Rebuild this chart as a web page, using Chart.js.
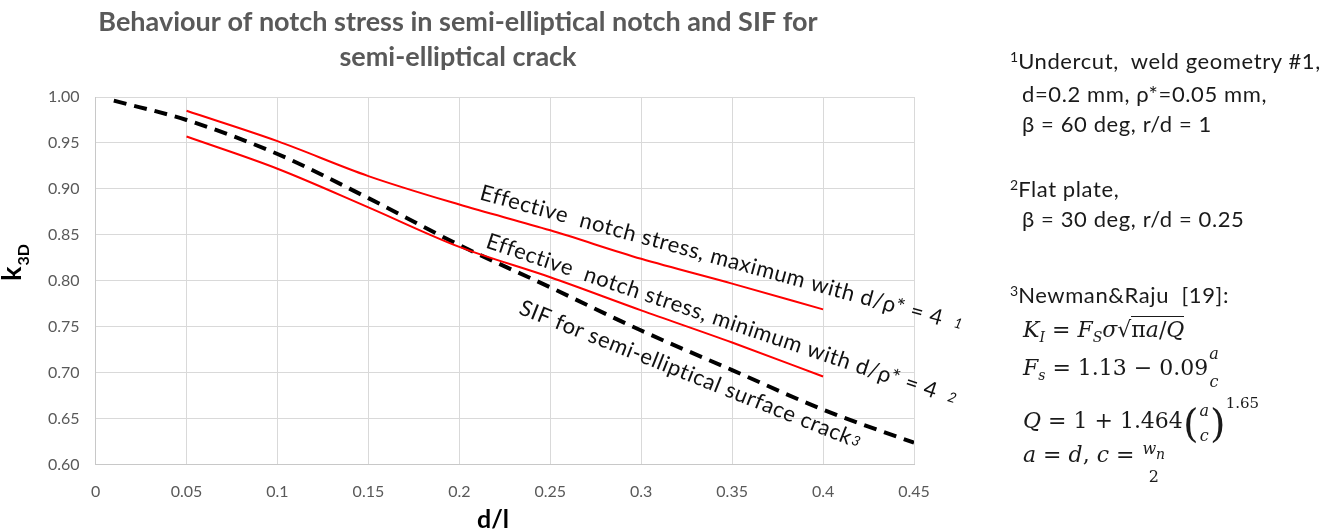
<!DOCTYPE html>
<html><head><meta charset="utf-8">
<script src="https://cdn.jsdelivr.net/npm/chart.js@4"></script>
<style>
html,body{margin:0;padding:0;background:#fff;}
#wrap{position:relative;width:1335px;height:532px;overflow:hidden;}
canvas{position:absolute;left:0;top:0;}
.t{position:absolute;font-family:Lato,"Open Sans",sans-serif;font-size:22px;line-height:24px;letter-spacing:0.6px;color:#1a1a1a;white-space:nowrap;}
.t .m{font-size:14px;line-height:0;letter-spacing:0;vertical-align:7px;}
.f{position:absolute;font-family:"DejaVu Serif",serif;font-size:22px;line-height:26px;color:#1a1a1a;white-space:nowrap;}
.f i{font-style:italic;}
.f sub{font-size:14px;vertical-align:-5px;line-height:0;}
.f sup{font-size:15px;vertical-align:20px;line-height:0;}
.frac{display:inline-flex;flex-direction:column;align-items:center;font-size:16px;margin:0 1px;position:relative;vertical-align:baseline;}
.par{font-size:40px;vertical-align:-9px;line-height:0;font-weight:normal;}
.root{border-top:1.5px solid #1a1a1a;}
</style></head>
<body><div id="wrap"><canvas id="c" width="1335" height="532"></canvas>
<div class="t" style="left:1010px;top:49px;"><span class="m">1</span>Undercut,&nbsp; weld geometry #1,</div>
<div class="t" style="left:1022px;top:82px;">d=0.2 mm, ρ*=0.05 mm,</div>
<div class="t" style="left:1022px;top:112px;">β = 60 deg, r/d = 1</div>
<div class="t" style="left:1010px;top:177px;"><span class="m">2</span>Flat plate,</div>
<div class="t" style="left:1022px;top:207px;">β = 30 deg, r/d = 0.25</div>
<div class="t" style="left:1010px;top:283px;"><span class="m">3</span>Newman&amp;Raju&nbsp; [19]:</div>
<div class="f" style="left:1023px;top:317px;"><i>K<sub>I</sub></i> = <i>F<sub>S</sub>σ</i>√<span class="root">π<i>a</i>/<i>Q</i></span></div>
<div class="f" style="left:1023px;top:355px;"><i>F<sub>s</sub></i> = 1.13 − 0.09<span class="frac" style="line-height:28px;top:-16px;"><i>a</i><i>c</i></span></div>
<div class="f" style="left:1023px;top:403px;"><i>Q</i> = 1 + 1.464<span class="par">(</span><span class="frac" style="line-height:25px;top:-12px;"><i>a</i><i>c</i></span><span class="par">)</span><sup>1.65</sup></div>
<div class="f" style="left:1023px;top:442px;"><i>a</i> = <i>d</i>, <i>c</i> = <span class="frac" style="line-height:28px;top:-8px;"><i>w<sub>n</sub></i><span>2</span></span></div>
</div>
<script>
// ---- data ----
const xTickValues = [0, 0.05, 0.1, 0.15, 0.2, 0.25, 0.3, 0.35, 0.4, 0.45];
const xTickLabels = ['0', '0.05', '0.1', '0.15', '0.2', '0.25', '0.3', '0.35', '0.4', '0.45'];
const yTickValues = [0.6, 0.65, 0.7, 0.75, 0.8, 0.85, 0.9, 0.95, 1.0];
const yTickLabels = ['0.60', '0.65', '0.70', '0.75', '0.80', '0.85', '0.90', '0.95', '1.00'];

const sifX = [0.01, 0.05, 0.1, 0.15, 0.2, 0.25, 0.3, 0.35, 0.4, 0.45];
const sifY = [0.996, 0.975, 0.938, 0.890, 0.839, 0.793, 0.746, 0.703, 0.660, 0.624];

const maxX = [0.05, 0.1, 0.15, 0.2, 0.25, 0.3, 0.35, 0.4];
const maxY = [0.985, 0.952, 0.914, 0.883, 0.855, 0.824, 0.797, 0.769];

const minX = [0.05, 0.1, 0.15, 0.2, 0.25, 0.3, 0.35, 0.4];
const minY = [0.957, 0.922, 0.880, 0.837, 0.804, 0.768, 0.733, 0.696];

const titleLines = ['Behaviour of notch stress in semi-elliptical notch and SIF for', 'semi-elliptical crack'];
const xTitle = 'd/l';
const yTitleMain = 'k';
const yTitleSub = '3D';

// in-plot labels: text, superscript mark, anchor (data coords of baseline start), angle (deg)
const curveLabels = [
  { text: 'Effective  notch stress, maximum with d/ρ* = 4', mark: '1', at: [0.2107, 0.8888], angle: 15.3, gap: 12 },
  { text: 'Effective  notch stress, minimum with d/ρ* = 4', mark: '2', at: [0.214, 0.8365], angle: 18.6, gap: 12 },
  { text: 'SIF for semi-elliptical surface crack', mark: '3', at: [0.2321, 0.7646], angle: 21.7, gap: 1 }
];

const pts = (xs, ys) => xs.map((x, i) => ({ x: x, y: ys[i] }));

const labelPlugin = {
  id: 'labels',
  afterDatasetsDraw(chart) {
    const ctx = chart.ctx, xs = chart.scales.x, ys = chart.scales.y;
    ctx.save();
    ctx.fillStyle = '#111';
    ctx.textBaseline = 'alphabetic';
    ctx.textAlign = 'left';
    curveLabels.forEach(l => {
      const px = xs.getPixelForValue(l.at[0]);
      const py = ys.getPixelForValue(l.at[1]);
      ctx.save();
      ctx.translate(px, py);
      ctx.rotate(l.angle * Math.PI / 180);
      ctx.font = '22px Lato';
      if ('letterSpacing' in ctx) ctx.letterSpacing = '0.6px';
      ctx.fillText(l.text, 0, 0);
      const w = ctx.measureText(l.text).width;
      ctx.font = 'italic 14px Lato';
      if ('letterSpacing' in ctx) ctx.letterSpacing = '0px';
      ctx.fillText(l.mark, w + l.gap, -2);
      ctx.restore();
    });
    ctx.restore();
  },
  afterDraw(chart) {
    const ctx = chart.ctx;
    ctx.save();
    // chart title
    ctx.fillStyle = '#595959';
    ctx.textAlign = 'center';
    ctx.textBaseline = 'middle';
    ctx.font = 'bold 27px Lato';
    ctx.fillText(titleLines[0], 458, 22);
    ctx.fillText(titleLines[1], 458, 57);
    // x-axis title
    ctx.fillStyle = '#000';
    ctx.textBaseline = 'alphabetic';
    ctx.font = 'bold 25px Lato';
    ctx.fillText(xTitle, 493, 528);
    // y-axis title k_3D
    ctx.translate(21, 281);
    ctx.rotate(-Math.PI / 2);
    ctx.textAlign = 'left';
    ctx.font = 'bold 27px Lato';
    const kw = ctx.measureText(yTitleMain).width;
    ctx.fillText(yTitleMain, 0, 0);
    ctx.font = 'bold 16px Lato';
    ctx.fillText(yTitleSub, kw + 1, 8);
    ctx.restore();
  }
};

new Chart(document.getElementById('c'), {
  type: 'line',
  data: {
    datasets: [
      { label: 'max', data: pts(maxX, maxY), borderColor: '#ff0000', borderWidth: 2, pointRadius: 0, cubicInterpolationMode: 'monotone', fill: false },
      { label: 'min', data: pts(minX, minY), borderColor: '#ff0000', borderWidth: 2, pointRadius: 0, cubicInterpolationMode: 'monotone', fill: false },
      { label: 'SIF', data: pts(sifX, sifY), borderColor: '#000000', borderWidth: 4, borderDash: [13, 8], borderCapStyle: 'butt', pointRadius: 0, cubicInterpolationMode: 'monotone', fill: false }
    ]
  },
  options: {
    responsive: false,
    animation: false,
    devicePixelRatio: 1,
    layout: { padding: { left: 32, right: 421, top: 97, bottom: 14 } },
    plugins: {
      legend: { display: false },
      tooltip: { enabled: false },
      title: { display: false }
    },
    scales: {
      x: {
        type: 'linear', min: 0, max: 0.45,
        afterBuildTicks: (s) => { s.ticks = xTickValues.map(v => ({ value: v })); },
        ticks: {
          color: '#595959', font: { family: 'Lato', size: 16 }, padding: 17, maxRotation: 0,
          callback: (v) => { const i = xTickValues.findIndex(t => Math.abs(t - v) < 1e-9); return i >= 0 ? xTickLabels[i] : ''; }
        },
        grid: { color: '#d9d9d9', lineWidth: 1, drawTicks: false },
        border: { color: '#c8c8c8', width: 1 },
        title: { display: false }
      },
      y: {
        type: 'linear', min: 0.6, max: 1.0,
        afterBuildTicks: (s) => { s.ticks = yTickValues.map(v => ({ value: v })); },
        ticks: {
          color: '#595959', font: { family: 'Lato', size: 16 }, padding: 16,
          callback: (v) => { const i = yTickValues.findIndex(t => Math.abs(t - v) < 1e-9); return i >= 0 ? yTickLabels[i] : ''; }
        },
        grid: { color: '#d9d9d9', lineWidth: 1, drawTicks: false },
        border: { color: '#c8c8c8', width: 1 }
      }
    }
  },
  plugins: [labelPlugin]
});
</script>
</body></html>
